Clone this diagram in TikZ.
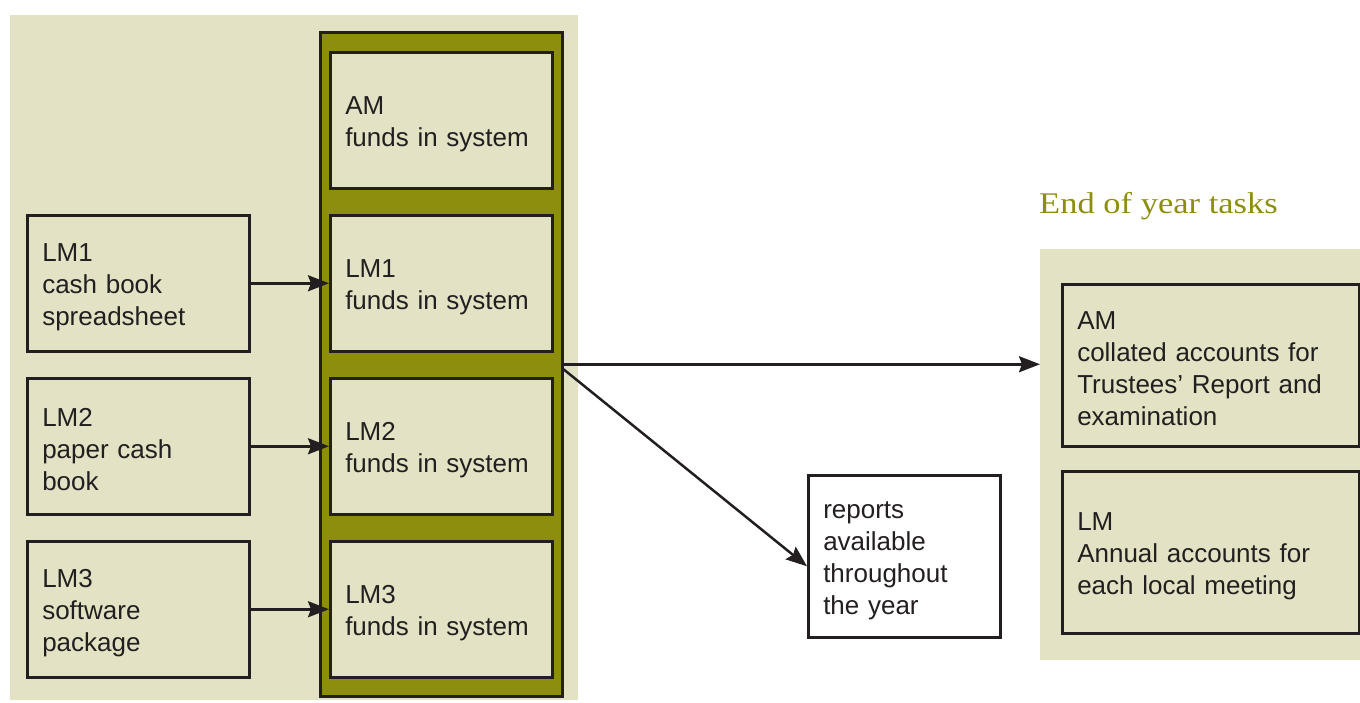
\documentclass[tikz,border=0pt]{standalone}
\usepackage{fontspec}
\setmainfont{Liberation Sans}
\newfontfamily\titlefont{Liberation Serif}
\usetikzlibrary{arrows.meta}
\definecolor{beige}{HTML}{E3E2C4}
\definecolor{olivec}{HTML}{8E8E0E}
\definecolor{ink}{HTML}{231F20}
\begin{document}
\begin{tikzpicture}[x=1pt,y=-1pt,
  box/.style={draw=ink, line width=2.5pt, fill=beige, minimum height=136pt,
    text width=#1, inner xsep=15pt, inner ysep=0pt, align=left, anchor=north west,
    font=\fontsize{26}{32}\selectfont, text=ink, execute at begin node={\rule{0pt}{25pt}}},
  box/.default=192pt,
  bg/.style={fill=beige, draw=none, anchor=north west, inner sep=0pt},
  arr/.style={draw=ink, line width=2.5pt, -{Stealth[length=21pt,width=16pt,inset=3pt]}}]
\useasboundingbox (0,0) rectangle (1360,702);
% backgrounds
\node[bg, minimum width=568pt, minimum height=685pt] (lbg) at (10,15) {};
\node[bg, minimum width=320pt, minimum height=411pt] (rbg) at (1040,249) {};
% olive column
\node[draw=ink, line width=2.5pt, fill=olivec, anchor=north west, inner sep=0pt,
  minimum width=242pt, minimum height=664pt] (col) at (319,31) {};
% inner boxes
\node[box] (am) at (329,51) {AM\\funds in system};
\node[box] (m1) at (329,214) {LM1\\funds in system};
\node[box] (m2) at (329,377) {LM2\\funds in system};
\node[box] (m3) at (329,540) {LM3\\funds in system};
% left boxes
\node[box] (l1) at (26,214) {LM1\\cash book\\spreadsheet};
\node[box] (l2) at (26,377) {LM2\\paper cash\\book};
\node[box] (l3) at (26,540) {LM3\\software\\package};
% reports
\node[box=162pt, fill=white, minimum height=162pt] (rep) at (807,474) {reports\\available\\throughout\\the year};
% title
\node[anchor=base west, inner sep=0pt, text=olivec, font=\titlefont\fontsize{30}{34}\selectfont] (title) at (1039,213) {\scalebox{1.15}[1]{End of year tasks}};
% right boxes
\node[box=267pt, minimum height=162pt] (ram) at (1061,283) {AM\\collated accounts for\\Trustees’ Report and\\examination};
\node[box=267pt, minimum height=162pt] (rlm) at (1061,470) {LM\\Annual accounts for\\each local meeting};
% arrows
\draw[arr] (l1.east) -- (m1.west);
\draw[arr] (l2.east) -- (m2.west);
\draw[arr] (l3.east) -- (m3.west);
\draw[arr] (col.east) -- (rbg.west |- col.east);
\draw[arr] ([yshift=-5pt]col.east) -- ([yshift=-10pt]rep.west);
\end{tikzpicture}
\end{document}
